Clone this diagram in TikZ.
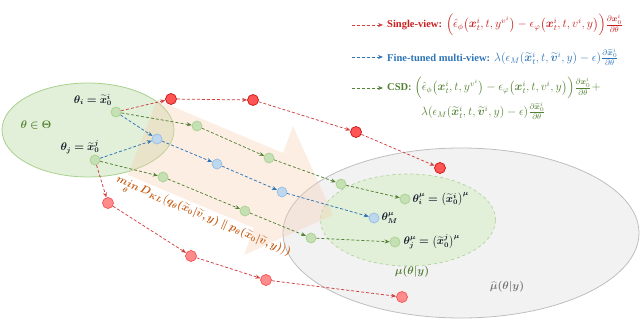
\documentclass[tikz,border=0pt]{standalone}
\usepackage{amsmath,amssymb}
\usepackage{bm}
\usepackage{fontspec}
\setmainfont{Liberation Serif}
\usepackage{tikz}
\usetikzlibrary{arrows.meta,positioning,calc,shapes.geometric}
\definecolor{inkBlack}{RGB}{17, 24, 39}
\definecolor{inkRed}{RGB}{200, 30, 30}
\definecolor{inkBlue}{RGB}{46, 117, 182}
\definecolor{inkGreen}{RGB}{84, 130, 53}
\definecolor{inkOrange}{RGB}{197, 90, 17}
\definecolor{inkGray}{RGB}{118, 118, 118}
\definecolor{paperGreen}{RGB}{226, 239, 217}
\definecolor{ruleGreen}{RGB}{169, 209, 142}
\definecolor{paperGray}{RGB}{242, 242, 242}
\definecolor{ruleGray}{RGB}{191, 191, 191}
\definecolor{paperPeach}{RGB}{248, 203, 173}
\definecolor{dotFillRed}{RGB}{255, 85, 85}
\definecolor{dotRuleRed}{RGB}{200, 20, 20}
\definecolor{dotFillPink}{RGB}{255, 140, 140}
\definecolor{dotRulePink}{RGB}{250, 80, 80}
\definecolor{dotFillGreen}{RGB}{197, 224, 180}
\definecolor{dotFillBlue}{RGB}{189, 215, 238}
\definecolor{dotRuleBlue}{RGB}{150, 190, 228}
\newcommand{\xTil}{\widetilde{\bm{x}}}
\newcommand{\vTil}{\widetilde{\bm{v}}}
\newcommand{\keyName}[1]{{\fontsize{10.5pt}{12pt}\selectfont\textbf{#1}}}
\tikzset{
    dotBase/.style={circle, inner sep=0pt, minimum size=10pt, line width=0.7pt},
    redDot/.style={dotBase, fill=dotFillRed, draw=dotRuleRed, minimum size=11pt},
    pinkDot/.style={dotBase, fill=dotFillPink, draw=dotRulePink, minimum size=11pt},
    greenDot/.style={dotBase, fill=dotFillGreen, draw=ruleGreen},
    blueDot/.style={dotBase, fill=dotFillBlue, draw=dotRuleBlue},
    linkBase/.style={line width=0.75pt, dash pattern=on 3pt off 2pt, -{Stealth[length=5pt,width=4pt]}},
    redLink/.style={linkBase, draw=inkRed!85},
    blueLink/.style={linkBase, draw=inkBlue},
    greenLink/.style={linkBase, draw=inkGreen},
    mathLabel/.style={font=\fontsize{10.5pt}{12pt}\selectfont, text=inkBlack, inner sep=1pt},
    legendText/.style={anchor=west, inner sep=1pt, font=\fontsize{12pt}{14pt}\selectfont}
}

\begin{document}
\begin{tikzpicture}[x=1pt, y=-1pt]
    \useasboundingbox (0,0) rectangle (640,321);

    % regions
    \node (postSpace) [ellipse, draw=ruleGray, line width=0.8pt, fill=paperGray, minimum width=356pt, minimum height=170pt, inner sep=0pt] at (461,233) {};
    \node (trueSpace) [ellipse, draw=ruleGreen, dashed, line width=0.6pt, fill=paperGreen, minimum width=175pt, minimum height=92pt, inner sep=0pt] at (408,220) {};
    \node (paramSpace) [ellipse, draw=ruleGreen, line width=0.8pt, fill=paperGreen, minimum width=172pt, minimum height=94pt, inner sep=0pt] at (88,130) {};

    % optimisation direction
    \fill[paperPeach, opacity=0.33] (157,100) -- (283,153) -- (293,126) -- (333,215) -- (244,255) -- (254,228) -- (128,175) -- cycle;

    % particles
    \node (thetaI) [greenDot] at (116,112) {};
    \node (thetaJ) [greenDot] at (95,160) {};
    \node (redA1) [redDot] at (171,99) {};
    \node (redA2) [redDot] at (253,100) {};
    \node (redA3) [redDot] at (356,132) {};
    \node (redA4) [redDot] at (440,168) {};
    \node (redB1) [pinkDot] at (108,203) {};
    \node (redB2) [pinkDot] at (191,256) {};
    \node (redB3) [pinkDot] at (266,280) {};
    \node (redB4) [pinkDot] at (402,297) {};
    \node (blueA) [blueDot] at (157,139) {};
    \node (blueB) [blueDot] at (217,164) {};
    \node (blueC) [blueDot] at (282,192) {};
    \node (thetaMu) [blueDot] at (374,218) {};
    \node (grnA1) [greenDot] at (197,126) {};
    \node (grnA2) [greenDot] at (269,158) {};
    \node (grnA3) [greenDot] at (341,184) {};
    \node (thetaIMu) [greenDot] at (405,199) {};
    \node (grnB1) [greenDot] at (163,177) {};
    \node (grnB2) [greenDot] at (245,211) {};
    \node (grnB3) [greenDot] at (311,238) {};
    \node (thetaJMu) [greenDot] at (395,242) {};

    % single-view
    \draw[redLink] (thetaI) -- (redA1);
    \draw[redLink] (redA1) -- (redA2);
    \draw[redLink] (redA2) -- (redA3);
    \draw[redLink] (redA3) -- (redA4);
    \draw[redLink] (thetaJ) -- (redB1);
    \draw[redLink] (redB1) -- (redB2);
    \draw[redLink] (redB2) -- (redB3);
    \draw[redLink] (redB3) -- (redB4);

    % fine-tuned multi-view
    \draw[blueLink] (thetaI) -- (blueA);
    \draw[blueLink] (thetaJ) -- (blueA);
    \draw[blueLink] (blueA) -- (blueB);
    \draw[blueLink] (blueB) -- (blueC);
    \draw[blueLink] (blueC) -- (thetaMu);

    % CSD
    \draw[greenLink] (thetaI) -- (grnA1);
    \draw[greenLink] (grnA1) -- (grnA2);
    \draw[greenLink] (grnA2) -- (grnA3);
    \draw[greenLink] (grnA3) -- (thetaIMu);
    \draw[greenLink] (thetaJ) -- (grnB1);
    \draw[greenLink] (grnB1) -- (grnB2);
    \draw[greenLink] (grnB2) -- (grnB3);
    \draw[greenLink] (grnB3) -- (thetaJMu);

    % labels
    \node (labelI) [mathLabel] at (93,100) {$\bm{\theta_i = \xTil_0^i}$};
    \node (labelJ) [mathLabel] at (80,147) {$\bm{\theta_j = \xTil_0^j}$};
    \node (labelSpace) [mathLabel, text=inkGreen] at (36,125) {$\bm{\theta \in \Theta}$};
    \node (labelIMu) [mathLabel, anchor=west, right=1pt of thetaIMu] {$\bm{\theta_i^\mu = \bigl(\xTil_0^i\bigr)^\mu}$};
    \node (labelMu) [mathLabel, anchor=west, right=1pt of thetaMu] {$\bm{\theta_M^\mu}$};
    \node (labelJMu) [mathLabel, anchor=west, right=2pt of thetaJMu] {$\bm{\theta_j^\mu = \bigl(\xTil_0^j\bigr)^\mu}$};
    \node (labelTrue) [mathLabel, text=inkGreen] at (412,272) {$\bm{\mu(\theta|y)}$};
    \node (labelPost) [mathLabel, text=inkGray] at (507,287) {$\widehat{\bm{\mu}}\bm{(\theta|y)}$};
    \node (labelKL) [mathLabel, text=inkOrange, rotate=-23] at (203,218)
        {$\bm{\mathop{min}\limits_{\theta} D_{KL}\bigl(q_\theta(\widetilde{x}_0|\widetilde{v},y) \parallel p_\theta(\widetilde{x}_0|\widetilde{v},y)\bigr))}$};

    % legend
    \coordinate (keyRedA) at (352,25);
    \coordinate (keyRedB) at (383,25);
    \coordinate (keyBlueA) at (352,57);
    \coordinate (keyBlueB) at (383,57);
    \coordinate (keyGrnA) at (352,88);
    \coordinate (keyGrnB) at (383,88);
    \draw[redLink] (keyRedA) -- (keyRedB);
    \draw[blueLink] (keyBlueA) -- (keyBlueB);
    \draw[greenLink] (keyGrnA) -- (keyGrnB);
    \node (textRed) [legendText, text=inkRed, right=3pt of keyRedB] {\keyName{Single-view:} $\Bigl(\hat{\epsilon}_{\phi}\bigl(\bm{x}_t^i, t, y^{v^i}\bigr) - \epsilon_{\varphi}\bigl(\bm{x}_t^i, t, v^i, y\bigr)\Bigr)\frac{\partial \bm{x}_0^i}{\partial \theta}$};
    \node (textBlue) [legendText, text=inkBlue, right=3pt of keyBlueB] {\keyName{Fine-tuned multi-view:} $\lambda(\epsilon_M(\xTil_t^i, t, \vTil^i, y) - \epsilon)\frac{\partial \xTil_0^i}{\partial \theta}$};
    \node (textGrnA) [legendText, text=inkGreen, right=3pt of keyGrnB] {\keyName{CSD:} $\Bigl(\hat{\epsilon}_{\phi}\bigl(\bm{x}_t^i, t, y^{v^i}\bigr) - \epsilon_{\varphi}\bigl(\bm{x}_t^i, t, v^i, y\bigr)\Bigr)\frac{\partial \bm{x}_0^i}{\partial \theta} +$};
    \node (textGrnB) [legendText, text=inkGreen] at (420,111) {$\lambda(\epsilon_M(\xTil_t^i, t, \vTil^i, y) - \epsilon)\frac{\partial \xTil_0^i}{\partial \theta}$};
\end{tikzpicture}
\end{document}
